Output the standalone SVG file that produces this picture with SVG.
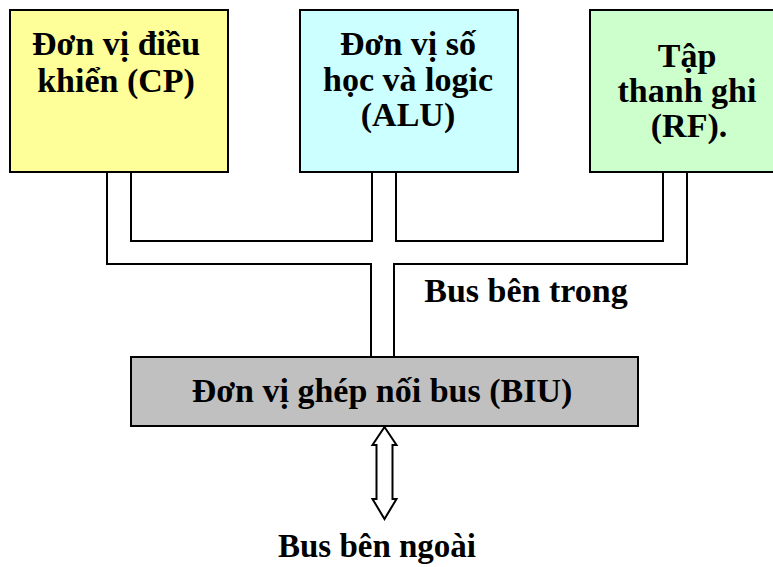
<svg xmlns="http://www.w3.org/2000/svg" width="773" height="567" viewBox="0 0 773 567">
<style>
.box{stroke:#000;stroke-width:2}
.t{font-family:"Liberation Serif","Times New Roman",serif;font-weight:bold;font-size:34px;fill:#000;text-anchor:middle}
.s{font-size:33px}
.c{fill:none;stroke:#000;stroke-width:2}
</style>
<rect width="773" height="567" fill="#fff"/>
<g id="connectors">
<polyline class="c" points="107,172 107,264 371,264 371,357"/>
<polyline class="c" points="687,172 687,264 394,264 394,357"/>
<polyline class="c" points="131,172 131,241 372,241 372,172"/>
<polyline class="c" points="396,172 396,241 663,241 663,172"/>
<polygon class="c" fill="#fff" points="384.5,427 396.5,445 392.5,445 392.5,499 396.5,499 384.5,519 372.5,499 376.5,499 376.5,445 372.5,445"/>
</g>
<g id="cp">
<rect class="box" x="10" y="10" width="218" height="162" fill="#FFFF99"/>
<text class="t" x="116" y="55">Đơn vị điều</text>
<text class="t" x="116" y="92">khiển (CP)</text>
</g>
<g id="alu">
<rect class="box" x="300" y="10" width="218" height="162" fill="#CCFFFF"/>
<text class="t" x="408" y="55">Đơn vị số</text>
<text class="t" x="408" y="91">học và logic</text>
<text class="t" x="408" y="126">(ALU)</text>
</g>
<g id="rf">
<rect class="box" x="590" y="10" width="200" height="162" fill="#CCFFCC"/>
<text class="t" x="687" y="67">Tập</text>
<text class="t" x="687" y="102">thanh ghi</text>
<text class="t" x="689" y="137">(RF).</text>
</g>
<g id="biu">
<rect class="box" x="131" y="357" width="507" height="69" fill="#C0C0C0"/>
<text class="t" x="382" y="402">Đơn vị ghép nối bus (BIU)</text>
</g>
<g id="labels">
<text class="t" x="526" y="302">Bus bên trong</text>
<text class="t s" x="377" y="557">Bus bên ngoài</text>
</g>
</svg>
